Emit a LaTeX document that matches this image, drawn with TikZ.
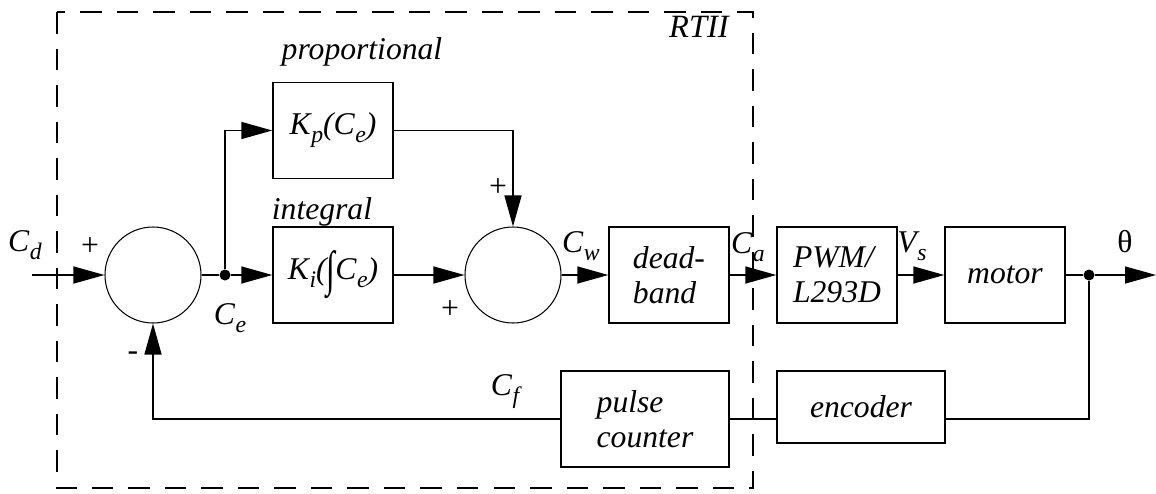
\documentclass[tikz,border=0pt]{standalone}
\usepackage{fontspec}
\setmainfont{Liberation Serif}
\usepackage{tikz}
\usetikzlibrary{arrows.meta,positioning,calc}

% signal name with a lowered subscript
\newcommand{\sig}[2]{\textit{#1\kern0.02em\raisebox{-0.55ex}{\fontsize{13.5}{13.5}\selectfont #2}}}
% tall integral sign
\newcommand{\intsign}{\raisebox{-0.45ex}{\upshape\scalebox{1}[1.55]{∫}}}

\begin{document}
\begin{tikzpicture}[
    font=\fontsize{18}{20}\selectfont,
    block/.style={draw, line width=0.8pt, minimum width=2.4cm, minimum height=1.92cm, align=left, font=\fontsize{18}{20}\selectfont\itshape},
    sumnode/.style={draw, circle, line width=0.6pt, minimum size=1.92cm, inner sep=0pt},
    branch/.style={fill, circle, minimum size=0.22cm, inner sep=0pt},
    arr/.style={-{Triangle[length=0.62cm, width=0.34cm]}, line width=0.8pt},
    wire/.style={line width=0.8pt}
  ]
    \useasboundingbox (0,5.5) rectangle (23.12,-4.36);

    % RTII border
    \draw[line width=0.8pt, dash pattern=on 0.43cm off 0.3cm] (1.14,5.26) rectangle (15.06,-4.26);
    \node[font=\fontsize{18.5}{20}\selectfont\itshape] (rtii) at (13.98,4.96) {RTII};

    % Summing junctions
    \node[sumnode] (sumA) at (3.06,0) {};
    \node[sumnode] (sumB) at (10.26,0) {};

    % Controller blocks
    \node[block] (kp) at (6.66,2.89) {\sig{K}{p}(\sig{C}{e})};
    \node[block] (ki) at (6.66,0) {\sig{K}{i}(\intsign\sig{C}{e})};
    \node[block] (dband) at (13.38,0) {dead-\\band};
    \node[block] (pwm) at (16.74,0) {PWM/\\L293D};
    \node[block] (motor) at (20.1,0) {motor};

    % Feedback blocks
    \node[block, minimum width=3.36cm] (pulse) at (12.9,-2.88) {pulse\\counter};
    \node[block, minimum width=3.36cm, minimum height=1.44cm] (enc) at (17.22,-2.64) {encoder};

    % Branch points and loose ends
    \node[branch] (ce) at (4.5,0) {};
    \node[branch] (out) at (21.78,0) {};
    \coordinate (in) at (0.64,0);
    \coordinate (theta) at (23.12,0);

    % Forward path
    \draw[arr] (in) -- (sumA);
    \draw[wire] (sumA) -- (ce);
    \draw[arr] (ce) -- (ki);
    \draw[arr] (ce) |- (kp);
    \draw[arr] (kp) -| (sumB);
    \draw[arr] (ki) -- (sumB);
    \draw[arr] (sumB) -- (dband);
    \draw[arr] (dband) -- (pwm);
    \draw[arr] (pwm) -- (motor);
    \draw[wire] (motor) -- (out);
    \draw[arr] (out) -- (theta);

    % Feedback path
    \draw[wire] (out) |- (pulse.east -| enc.east);
    \draw[wire] (enc.west |- pulse.east) -- (pulse.east);
    \draw[arr] (pulse) -| (sumA);

    % Labels
    \node (lcd) at (0.5,0.6) {\sig{C}{d}};
    \node (pa) at (1.8,0.56) {+};
    \node (lce) at (4.6,-0.86) {\sig{C}{e}};
    \node[font=\fontsize{18}{20}\selectfont\itshape] (lprop) at (7.24,4.46) {proportional};
    \node[font=\fontsize{18}{20}\selectfont\itshape] (lint) at (6.44,1.26) {integral};
    \node (pb) at (9.96,1.74) {+};
    \node (pc) at (9.0,-0.7) {+};
    \node (lcw) at (11.62,0.58) {\sig{C}{w}};
    \node (lca) at (14.96,0.56) {\sig{C}{a}};
    \node (lvs) at (18.24,0.58) {\sig{V}{s}};
    \node (lth) at (22.5,0.66) {θ};
    \node (lcf) at (10.1,-2.34) {\sig{C}{f}};
    \node (mn) at (2.66,-1.62) {-};
  \end{tikzpicture}
\end{document}
